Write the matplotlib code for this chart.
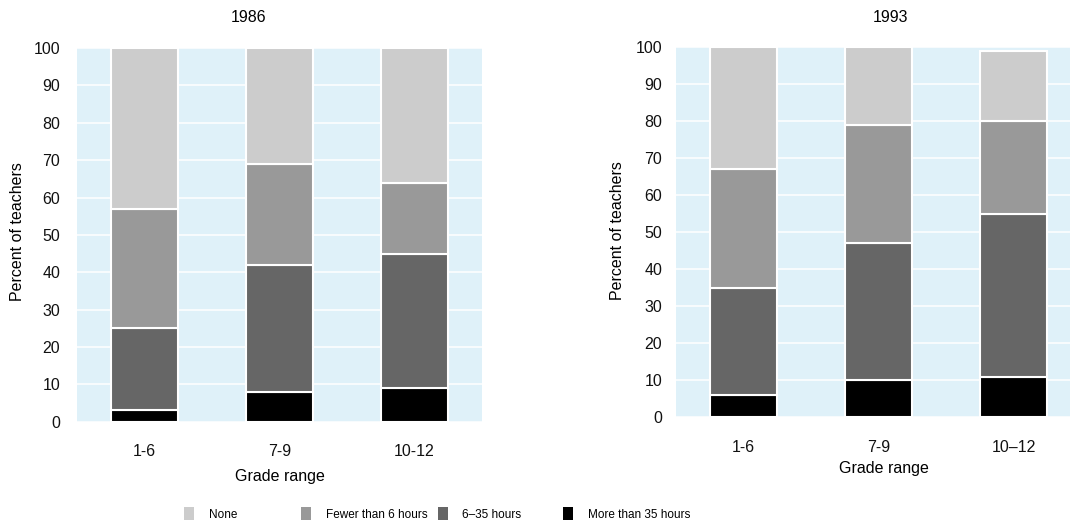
import matplotlib
matplotlib.use("Agg")
import matplotlib.pyplot as plt
from matplotlib import font_manager
import numpy as np

plt.rcParams['font.family'] = ['Liberation Sans', 'DejaVu Sans']

# data (percent of teachers)
grades_1986 = ["1-6", "7-9", "10-12"]
grades_1993 = ["1-6", "7-9", "10\u201312"]
series = ["None", "Fewer than 6 hours", "6\u201335 hours", "More than 35 hours"]
colors = ["#cccccc", "#999999", "#666666", "#000000"]

more35_1986 = [3, 8, 9]
h6_35_1986 = [22, 34, 36]
fewer6_1986 = [32, 27, 19]
none_1986 = [43, 31, 36]

more35_1993 = [6, 10, 11]
h6_35_1993 = [29, 37, 44]
fewer6_1993 = [32, 32, 25]
none_1993 = [33, 21, 19]

bg = "#dff1f9"
fs = 11.5

# the legend text in the reference is condensed; use a narrow face if there is one
names = set(f.name for f in font_manager.fontManager.ttflist)
if "Liberation Sans Narrow" in names:
    leg_font = {"family": "Liberation Sans Narrow", "size": 11.5}
elif "DejaVu Sans Condensed" in names:
    leg_font = {"family": "DejaVu Sans Condensed", "size": 10}
else:
    leg_font = {"family": "Liberation Sans", "size": 8.5}
leg_px = leg_font["size"] * 100 / 72  # font size in pixels

fig = plt.figure(figsize=(10.7, 5.25), dpi=100)
ax1 = fig.add_axes([0.072, 0.1968, 0.3785, 0.7115])
ax2 = fig.add_axes([0.6318, 0.2051, 0.3785, 0.7053])


def draw(ax, grades, stacks, ypad):
    x = np.arange(len(grades))
    bottom = np.zeros(len(grades))
    # stack from the bottom: black, dark, mid, light
    for vals, col in zip(stacks, colors[::-1]):
        ax.bar(x, vals, bottom=bottom, width=0.49, color=col,
               edgecolor="white", linewidth=1.5, zorder=3)
        bottom += np.array(vals)
    ax.set_facecolor(bg)
    ax.set_xlim(-0.5, 2.5)
    ax.set_ylim(0, 100)
    ax.set_yticks(range(0, 101, 10))
    ax.set_xticks(x)
    ax.set_xticklabels(grades)
    ax.grid(axis="y", color="white", linewidth=1.1, zorder=1)
    ax.set_axisbelow(True)
    for s in ax.spines.values():
        s.set_visible(False)
    ax.tick_params(length=0, labelsize=fs, colors="#111111")
    ax.tick_params(axis="x", pad=16)
    ax.tick_params(axis="y", pad=ypad)


draw(ax1, grades_1986, [more35_1986, h6_35_1986, fewer6_1986, none_1986], 12)
draw(ax2, grades_1993, [more35_1993, h6_35_1993, fewer6_1993, none_1993], 10)

# titles and axis labels
fig.text(249 / 1070, 1 - 17 / 525, "1986", ha="center", va="center", fontsize=fs)
fig.text(890 / 1070, 1 - 17 / 525, "1993", ha="center", va="center", fontsize=fs)
fig.text(17.5 / 1070, 1 - 232 / 525, "Percent of teachers", rotation=90,
         ha="center", va="center", fontsize=fs)
fig.text(617.5 / 1070, 1 - 231 / 525, "Percent of teachers", rotation=90,
         ha="center", va="center", fontsize=fs)
fig.text(280 / 1070, 1 - 477 / 525, "Grade range", ha="center", va="center", fontsize=fs)
fig.text(884 / 1070, 1 - 468 / 525, "Grade range", ha="center", va="center", fontsize=fs)

# legend, one entry at a time
legend_x = [184, 301, 438, 563]
for name, col, lx in zip(series, colors, legend_x):
    h = plt.Rectangle((0, 0), 1, 1, facecolor=col, edgecolor="none")
    fig.legend(handles=[h], labels=[name], loc="center left",
               bbox_to_anchor=(lx / 1070, 1 - 514 / 525), frameon=False,
               prop=leg_font, handlelength=9.5 / leg_px, handleheight=15 / leg_px,
               handletextpad=15 / leg_px, borderpad=0, borderaxespad=0)

fig.savefig("out.png", dpi=100)
